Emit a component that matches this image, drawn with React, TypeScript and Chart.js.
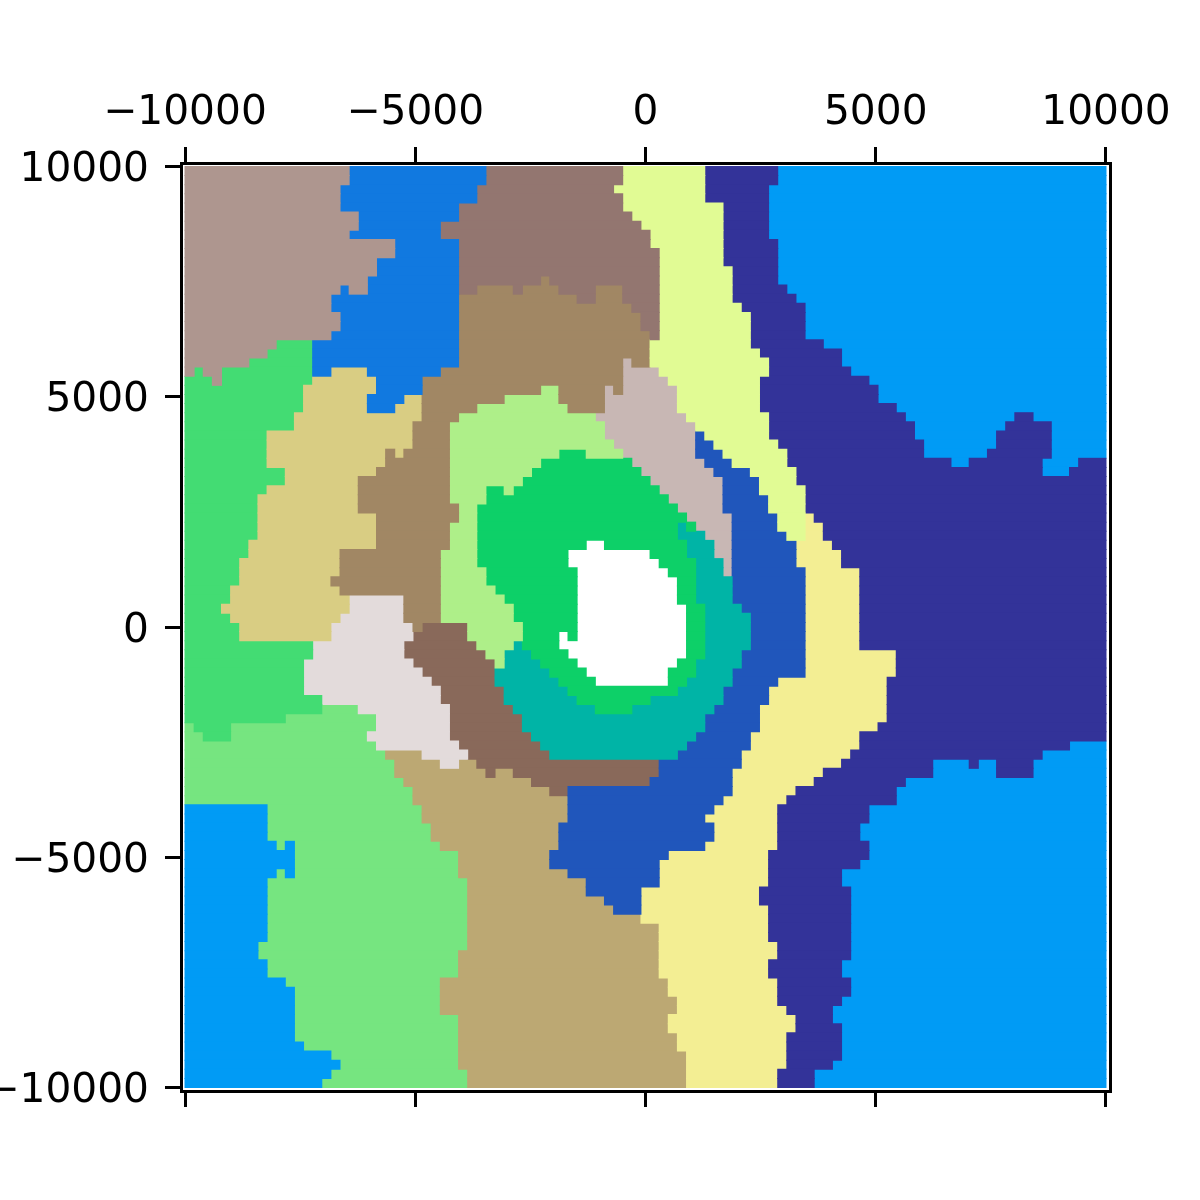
import React, { useEffect, useRef } from "react";
import { Chart, registerables } from "chart.js";

Chart.register(...registerables);

const categories = ["a","b","c","d","e","f","g","h","i","j","k","l","m","n","o","p","q","r","s","t"];
const colours = ["#AE968F","#1179E0","#937670","#E1FB94","#333399","#019BF5","#A18764","#D9CD83","#43DC73","#AEEF89","#0DD068","#FFFFFF","#00B4A6","#2056BB","#F3EE93","#C8B7B4","#E3DBDB","#89695A","#BCA873","#76E580"];
const tickValues = [-10000, -5000, 0, 5000, 10000];
const cellCount = 101;
const extentMin = -10000;
const extentMax = 10000;

// one string per image row (top to bottom): category letter + column where the run ends
const rows = [
"a18 b33 c48 d57 e65 f101",
"a18 b33 c48 d57 e65 f101",
"a17 b32 c47 d57 e64 f101",
"a17 b32 c48 d57 e64 f101",
"a17 b30 c48 d59 e64 f101",
"a19 b30 c49 d59 e64 f101",
"a19 b28 c50 d59 e64 f101",
"a18 b28 c51 d59 e64 f101",
"a23 b30 c51 d59 e65 f101",
"a23 b30 c52 d59 e65 f101",
"a21 b30 c52 d59 e65 f101",
"a21 b30 c52 d60 e65 f101",
"a20 b30 c39 g40 c52 d60 e65 f101",
"a17 b18 a20 b30 c32 g36 c37 g41 c45 g48 c52 d60 e66 f101",
"a16 b30 g43 c45 g48 c52 d60 e67 f101",
"a16 b30 g49 c52 d61 e68 f101",
"a17 b30 g50 c52 d62 e68 f101",
"a17 b30 g50 c52 d62 e68 f101",
"a16 b30 g51 c52 d62 e68 f101",
"a10 i14 b30 g51 d62 e70 f101",
"a9 i14 b30 g51 d63 e72 f101",
"a7 i14 b30 g48 p49 g51 d64 e72 f101",
"a1 i2 a4 i14 b16 h20 b28 g48 p52 d64 e73 f101",
"i3 a4 i14 h21 b26 g48 p53 d63 e75 f101",
"i13 h21 b26 g39 j41 g46 p47 g48 p54 d63 e76 f101",
"i13 h20 b24 h26 g35 j41 g46 p54 d63 e76 f101",
"i13 h20 b23 h26 g32 j42 g46 p54 d63 e78 f101",
"i12 h26 g30 j45 p55 d64 e79 f91 e93 f101",
"i12 h25 g29 j46 p56 d64 e80 f90 e95 f101",
"i9 h25 g29 j46 p56 n57 d64 e80 f89 e95 f101",
"i9 h25 g29 j47 p56 n58 d65 e81 f89 e95 f101",
"i9 h22 g23 h24 g29 j41 k44 j48 p56 n59 d66 e81 f88 e95 f101",
"i9 h22 g29 j39 k49 p57 n60 d66 e84 f86 e94 f98 e101",
"i11 h21 g29 j38 k50 p58 n62 d67 e94 f97 e101",
"i11 h19 g29 j37 k51 p59 n63 d67 e101",
"i9 h19 g29 j33 k35 j36 k52 p59 n63 d68 e101",
"i8 h19 g29 j33 k53 p59 n64 d68 e101",
"i8 h19 g30 j32 k54 p59 n64 d68 e101",
"i8 h21 g30 j32 k55 p60 n65 d68 o69 e101",
"i8 h21 g29 j32 k54 m55 k56 p60 n65 d68 o70 e101",
"i8 h21 g29 j32 k54 m57 p60 n66 d68 o70 e101",
"i7 h21 g29 j32 k44 l46 k55 m58 p60 n67 o71 e101",
"i7 h17 g28 j32 k42 l51 k55 m58 p60 n67 o72 e101",
"i6 h17 g28 j32 k42 l52 k56 m59 p60 n67 o72 e101",
"i6 h17 g28 j33 k43 l53 k56 m59 p60 n68 o74 e101",
"i6 h16 g28 j33 k43 l54 k56 m60 n68 o74 e101",
"i5 h17 g28 j34 k43 l54 k56 m60 n68 o74 e101",
"i5 h18 q24 g28 j35 k43 l54 k56 m60 n68 o74 e101",
"i4 h18 q24 g28 j36 k43 l55 k57 m61 n68 o74 e101",
"i5 h17 q24 g28 j36 k43 l55 k57 m62 n68 o74 e101",
"i6 h16 q25 g26 r31 j37 k43 l55 k57 m62 n68 o74 e101",
"i6 h16 q25 r31 j37 k41 l42 k43 l55 k57 m62 n68 o74 e101",
"i14 q24 r32 j36 m37 k41 l55 k57 m62 n68 o74 e101",
"i14 q24 r33 j35 m38 k42 l55 k57 m61 n68 o78 e101",
"i13 q25 r34 j35 m39 k43 l54 k56 m61 n68 o78 e101",
"i13 q26 r34 m40 k44 l53 k56 m60 n68 o78 e101",
"i13 q27 r34 m41 k45 l53 k55 m60 n65 o77 e101",
"i13 q28 r35 m42 k54 m59 n64 o77 e101",
"i15 q28 r35 m43 k51 m59 n64 o77 e101",
"i15 t19 q29 r36 m45 k49 m58 n63 o77 e101",
"i11 t21 q29 r37 m57 n63 o77 e101",
"t1 i5 t21 q29 r37 m57 n63 o76 e101",
"t2 i5 t20 q29 r38 m56 n62 o74 e101",
"t21 q30 r39 m55 n62 o74 e97 f101",
"t22 s26 q31 r40 m54 n61 o73 e94 f101",
"t23 s28 q30 s32 r52 n61 o72 e82 f86 e87 f89 e93 f101",
"t23 s33 r34 s36 r52 n60 o70 e82 f89 e93 f101",
"t24 s38 r51 n60 o69 e79 f101",
"t25 s40 r42 n60 o67 e78 f101",
"t25 s42 n59 o66 e78 f101",
"f9 t26 s42 n58 o65 e75 f101",
"f9 t26 s42 n57 o65 e75 f101",
"f9 t27 s41 n58 o65 e74 f101",
"f9 t27 s41 n58 o65 e74 f101",
"f10 t11 f12 t28 s41 n57 o65 e75 f101",
"f12 t30 s40 n53 o64 e75 f101",
"f12 t30 s40 n52 o64 e74 f101",
"f10 t11 f12 t30 s42 n52 o64 e72 f101",
"f9 t31 s44 n52 o64 e72 f101",
"f9 t31 s44 n50 o63 e73 f101",
"f9 t31 s46 n50 o63 e73 f101",
"f9 t31 s47 n50 o64 e73 f101",
"f9 t31 s50 o64 e73 f101",
"f9 t31 s52 o64 e73 f101",
"f9 t31 s52 o64 e73 f101",
"f8 t31 s52 o65 e73 f101",
"f8 t30 s52 o65 e73 f101",
"f9 t30 s52 o64 e72 f101",
"f9 t30 s52 o64 e72 f101",
"f11 t28 s53 o65 e73 f101",
"f12 t28 s53 o65 e73 f101",
"f12 t28 s54 o65 e72 f101",
"f12 t28 s54 o66 e71 f101",
"f12 t30 s53 o67 e71 f101",
"f12 t30 s53 o67 e72 f101",
"f12 t30 s54 o66 e72 f101",
"f13 t30 s54 o66 e72 f101",
"f16 t30 s55 o66 e72 f101",
"f17 t30 s55 o66 e71 f101",
"f16 t31 s55 o65 e69 f101",
"f15 t31 s55 o65 e69 f101",
];

const step = (extentMax - extentMin) / cellCount;

function buildDatasets() {
  const byCategory: Record<string, { x: [number, number]; y: number }[]> = {};
  categories.forEach((c) => (byCategory[c] = []));
  rows.forEach((row, rowIndex) => {
    const y = extentMax - (rowIndex + 0.5) * step;
    let start = 0;
    row.split(" ").forEach((run) => {
      const end = Number(run.slice(1));
      byCategory[run[0]].push({ x: [extentMin + start * step, extentMin + end * step], y });
      start = end;
    });
  });
  return categories.map((c, i) => ({
    label: c,
    data: byCategory[c],
    backgroundColor: colours[i],
    borderWidth: 0,
    grouped: false,
    barPercentage: 1,
    categoryPercentage: 1,
    inflateAmount: 0.5,
  }));
}

const fixedSize = (size: number) => (scale: any) => {
  if (scale.isHorizontal()) scale.height = size;
  else scale.width = size;
};
const setTicks = (scale: any) => {
  scale.ticks = tickValues.map((value) => ({ value }));
};
const formatTick = (v: any) => String(v).replace("-", "\u2212");

const font = { family: "'DejaVu Sans'", size: 40.7 };
const lineWidth = 3;
const gridOpts = (tick: boolean) => ({
  display: true,
  drawOnChartArea: false,
  drawTicks: tick,
  offset: false,
  tickLength: 16,
  tickWidth: lineWidth,
  tickColor: "#000000",
  color: "#000000",
  lineWidth,
});
const borderOpts = { display: true, color: "#000000", width: lineWidth };

export default function App() {
  const ref = useRef<HTMLCanvasElement>(null);
  useEffect(() => {
    const chart = new Chart(ref.current as HTMLCanvasElement, {
      type: "bar",
      data: { datasets: buildDatasets() as any },
      options: {
        indexAxis: "y",
        animation: false,
        responsive: false,
        layout: { padding: 0 },
        plugins: { legend: { display: false }, tooltip: { enabled: false }, title: { display: false } },
        scales: {
          x: {
            type: "linear",
            position: "bottom",
            min: -10087,
            max: 10087,
            grid: gridOpts(true),
            border: borderOpts,
            afterFit: fixedSize(109),
            afterBuildTicks: setTicks,
            ticks: { display: false },
          },
          x2: {
            type: "linear",
            axis: "x",
            position: "top",
            min: -10087,
            max: 10087,
            grid: gridOpts(true),
            border: borderOpts,
            afterFit: fixedSize(163),
            afterBuildTicks: setTicks,
            ticks: { font, color: "#000000", padding: 9.5, maxRotation: 0, autoSkip: false, callback: formatTick },
          },
          y: {
            type: "linear",
            position: "left",
            offset: false,
            min: -10076,
            max: 10076,
            grid: gridOpts(true),
            border: borderOpts,
            afterFit: fixedSize(181),
            afterBuildTicks: setTicks,
            ticks: { font, color: "#000000", padding: 16, labelOffset: 4, autoSkip: false, callback: formatTick },
          },
          y2: {
            type: "linear",
            axis: "y",
            position: "right",
            min: -10076,
            max: 10076,
            grid: gridOpts(false),
            border: borderOpts,
            afterFit: fixedSize(90),
            ticks: { display: false },
          },
        },
      } as any,
    });
    return () => chart.destroy();
  }, []);
  return (
    <div style={{ position: "absolute", left: 0, top: 0, width: 1200, height: 1200, background: "#fff" }}>
      <canvas ref={ref} width={1200} height={1200} style={{ display: "block", width: 1200, height: 1200 }} />
    </div>
  );
}
